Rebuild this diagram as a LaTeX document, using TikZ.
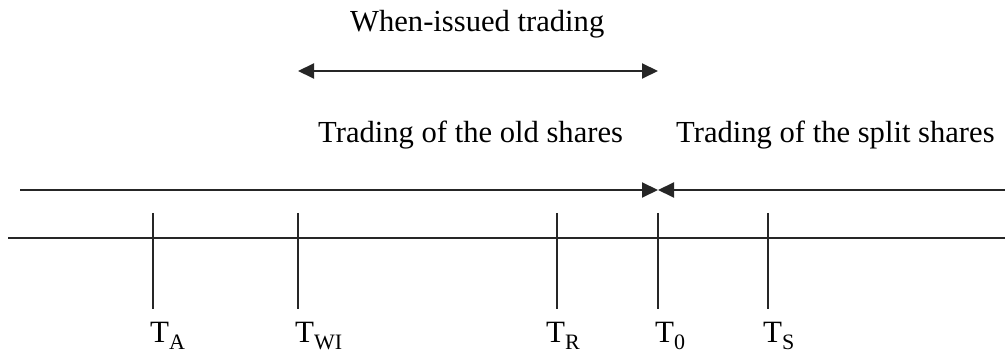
\documentclass[tikz,border=0pt]{standalone}
\usepackage{fontspec}
\setmainfont{Liberation Serif}
\usetikzlibrary{arrows.meta}
\newcommand{\tlabel}[1]{T\raisebox{-7pt}{\fontsize{22}{22}\selectfont #1}}
\begin{document}
\begin{tikzpicture}[x=1pt,y=-1pt,
  axis/.style={line width=2pt,black!85},
  tip/.style={-{Triangle[length=16pt,width=15pt]}},
  txt/.style={inner sep=0pt,anchor=base west,font=\fontsize{30.6}{36}\selectfont},
  lbl/.style={inner sep=0pt,anchor=base west,font=\fontsize{31}{36}\selectfont}]
\useasboundingbox (0,0) rectangle (1005,355);

% period labels
\node[txt] (wi) at (350,32) {When-issued trading};
\node[txt] (old) at (318,143) {Trading of the old shares};
\node[txt] (split) at (676,143) {Trading of the split shares};

% when-issued interval
\coordinate (wiL) at (298,71);
\coordinate (wiR) at (658,71);
\draw[axis,{Triangle[length=16pt,width=15pt]}-{Triangle[length=16pt,width=15pt]}] (wiL) -- (wiR);

% old / split trading periods
\coordinate (oldL) at (20,190);
\coordinate (mid) at (658,190);
\coordinate (splitR) at (1005,190);
\draw[axis,tip] (oldL) -- (mid);
\draw[axis,tip] (splitR) -- (mid);

% time axis
\coordinate (axL) at (8,238);
\coordinate (axR) at (1005,238);
\draw[axis] (axL) -- (axR);

% event ticks
\foreach \n/\x in {a/153,wi/298,r/557,z/658,s/768}{
  \coordinate (\n top) at (\x,213);
  \coordinate (\n bot) at (\x,309);
  \draw[axis] (\n top) -- (\n bot);
}

% event labels
\node[lbl] (ta) at (150,343) {\tlabel{A}};
\node[lbl] (twi) at (295,343) {\tlabel{WI}};
\node[lbl] (tr) at (546,343) {\tlabel{R}};
\node[lbl] (t0) at (655,343) {\tlabel{0}};
\node[lbl] (ts) at (763,343) {\tlabel{S}};
\end{tikzpicture}
\end{document}
